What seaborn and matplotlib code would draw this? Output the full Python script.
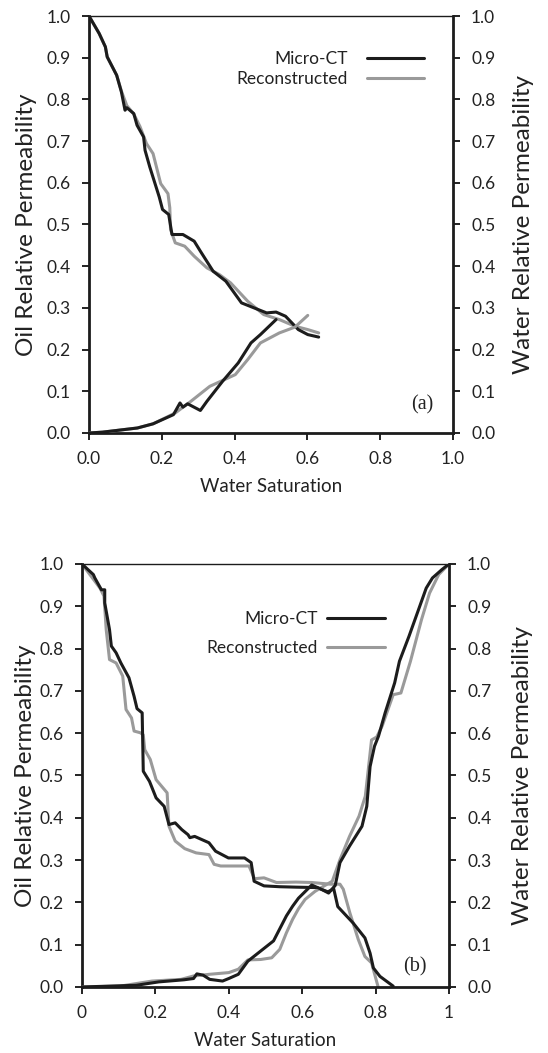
import matplotlib
matplotlib.use("Agg")
import matplotlib.pyplot as plt
import seaborn as sns

# ---------------- panel (a) ----------------
sw_oil_ct_a = [0.0, 0.028, 0.045, 0.050, 0.076, 0.089, 0.099, 0.104, 0.123, 0.132, 0.150, 0.154,
               0.167, 0.193, 0.202, 0.219, 0.228, 0.258, 0.289, 0.306, 0.341, 0.376, 0.419, 0.488,
               0.514, 0.540, 0.575, 0.601, 0.631]
kro_ct_a = [1.0, 0.958, 0.926, 0.902, 0.858, 0.818, 0.774, 0.780, 0.766, 0.738, 0.710, 0.678,
            0.638, 0.566, 0.536, 0.524, 0.476, 0.476, 0.460, 0.436, 0.388, 0.364, 0.312, 0.288,
            0.290, 0.280, 0.248, 0.236, 0.230]

sw_oil_rec_a = [0.0, 0.028, 0.045, 0.050, 0.076, 0.089, 0.104, 0.123, 0.140, 0.158, 0.176, 0.197,
                0.217, 0.222, 0.224, 0.237, 0.263, 0.289, 0.324, 0.358, 0.389, 0.436, 0.480, 0.523,
                0.566, 0.601, 0.631]
kro_rec_a = [1.0, 0.958, 0.926, 0.902, 0.858, 0.820, 0.785, 0.765, 0.735, 0.694, 0.670, 0.598,
             0.574, 0.540, 0.488, 0.456, 0.448, 0.424, 0.396, 0.380, 0.360, 0.316, 0.284, 0.272,
             0.256, 0.248, 0.240]

sw_wat_ct_a = [0.0, 0.037, 0.133, 0.176, 0.232, 0.250, 0.258, 0.271, 0.306, 0.324, 0.367, 0.410,
               0.445, 0.471, 0.514]
krw_ct_a = [0.0, 0.002, 0.012, 0.022, 0.044, 0.072, 0.062, 0.070, 0.054, 0.076, 0.124, 0.168,
            0.216, 0.236, 0.272]

sw_wat_rec_a = [0.0, 0.037, 0.133, 0.176, 0.237, 0.280, 0.332, 0.402, 0.436, 0.471, 0.523, 0.566,
                0.601]
krw_rec_a = [0.0, 0.002, 0.012, 0.022, 0.048, 0.076, 0.112, 0.140, 0.176, 0.216, 0.240, 0.254,
             0.282]

# ---------------- panel (b) ----------------
sw_oil_ct_b = [0.0, 0.016, 0.031, 0.035, 0.053, 0.062, 0.062, 0.075, 0.080, 0.093, 0.106, 0.128,
               0.142, 0.150, 0.164, 0.167, 0.184, 0.202, 0.224, 0.237, 0.254, 0.272, 0.289, 0.294,
               0.307, 0.346, 0.364, 0.399, 0.443, 0.461, 0.469, 0.496, 0.539, 0.583, 0.640, 0.670,
               0.686, 0.697, 0.739, 0.771, 0.785, 0.794, 0.812, 0.848]
kro_ct_b = [1.0, 0.987, 0.975, 0.967, 0.939, 0.939, 0.908, 0.845, 0.806, 0.790, 0.766, 0.731,
            0.687, 0.658, 0.648, 0.510, 0.486, 0.447, 0.427, 0.384, 0.388, 0.372, 0.360, 0.353,
            0.356, 0.341, 0.321, 0.305, 0.305, 0.294, 0.250, 0.239, 0.237, 0.236, 0.235, 0.225,
            0.232, 0.190, 0.151, 0.116, 0.080, 0.045, 0.025, 0.002]

sw_oil_rec_b = [0.0, 0.049, 0.060, 0.066, 0.075, 0.093, 0.111, 0.120, 0.135, 0.142, 0.159, 0.167,
                0.171, 0.186, 0.202, 0.232, 0.237, 0.254, 0.280, 0.311, 0.346, 0.360, 0.378, 0.455,
                0.470, 0.496, 0.530, 0.583, 0.626, 0.677, 0.703, 0.712, 0.730, 0.753, 0.771, 0.789,
                0.807]
kro_rec_b = [1.0, 0.943, 0.924, 0.845, 0.774, 0.766, 0.735, 0.656, 0.636, 0.605, 0.601, 0.596,
             0.561, 0.538, 0.490, 0.459, 0.380, 0.345, 0.327, 0.317, 0.313, 0.290, 0.286, 0.286,
             0.256, 0.258, 0.247, 0.248, 0.247, 0.243, 0.243, 0.231, 0.175, 0.112, 0.072, 0.057,
             0.0]

sw_wat_ct_b = [0.0, 0.148, 0.209, 0.278, 0.304, 0.313, 0.330, 0.348, 0.383, 0.400, 0.426, 0.452,
               0.487, 0.522, 0.557, 0.574, 0.590, 0.626, 0.650, 0.672, 0.690, 0.703, 0.729, 0.763,
               0.776, 0.785, 0.797, 0.808, 0.826, 0.852, 0.865, 0.891, 0.917, 0.938, 0.955, 0.981,
               1.0]
krw_ct_b = [0.0, 0.004, 0.012, 0.017, 0.020, 0.031, 0.028, 0.018, 0.014, 0.020, 0.030, 0.061,
            0.085, 0.109, 0.168, 0.191, 0.210, 0.241, 0.232, 0.222, 0.240, 0.294, 0.333, 0.380,
            0.427, 0.521, 0.569, 0.593, 0.648, 0.719, 0.770, 0.829, 0.892, 0.943, 0.967, 0.987,
            1.0]

sw_wat_rec_b = [0.0, 0.104, 0.191, 0.270, 0.304, 0.348, 0.400, 0.426, 0.452, 0.487, 0.517, 0.539,
                0.557, 0.574, 0.590, 0.608, 0.635, 0.660, 0.682, 0.703, 0.729, 0.755, 0.772, 0.781,
                0.789, 0.803, 0.818, 0.848, 0.869, 0.895, 0.925, 0.947, 0.972, 1.0]
krw_rec_b = [0.0, 0.002, 0.014, 0.018, 0.026, 0.030, 0.034, 0.042, 0.064, 0.065, 0.069, 0.089,
             0.128, 0.160, 0.185, 0.207, 0.226, 0.239, 0.250, 0.301, 0.356, 0.404, 0.451, 0.521,
             0.584, 0.591, 0.617, 0.691, 0.695, 0.770, 0.868, 0.931, 0.975, 1.0]

series_labels = ["Micro-CT", "Reconstructed"]
y_ticks = [0.0, 0.1, 0.2, 0.3, 0.4, 0.5, 0.6, 0.7, 0.8, 0.9, 1.0]
x_ticks = [0.0, 0.2, 0.4, 0.6, 0.8, 1.0]
x_ticklabels_a = ["0.0", "0.2", "0.4", "0.6", "0.8", "1.0"]
x_ticklabels_b = ["0", "0.2", "0.4", "0.6", "0.8", "1"]
y_ticklabels = ["0.0", "0.1", "0.2", "0.3", "0.4", "0.5", "0.6", "0.7", "0.8", "0.9", "1.0"]

BLACK = "#1c1c1c"
GREY = "#9a9a9a"
TXT = "#222222"
LW = 2.2

sns.set_theme(style="white")
plt.rcParams["font.family"] = ["Lato", "DejaVu Sans"]
plt.rcParams["text.color"] = TXT
plt.rcParams["axes.labelcolor"] = TXT
plt.rcParams["xtick.color"] = TXT
plt.rcParams["ytick.color"] = TXT

fig = plt.figure(figsize=(5.48, 10.53), dpi=100)
ax_a = fig.add_axes([0.1624, 0.5888, 0.6642, 0.3960])
ax_b = fig.add_axes([0.1496, 0.0627, 0.6697, 0.4017])


def draw_panel(ax, oil_ct, oil_rec, wat_ct, wat_rec, xticklabels, tag, tag_xy, leg_anchor,
               leg_textpad, leg_spacing, left_pad, right_pad):
    ax2 = ax.twinx()
    oil = [(oil_ct, BLACK), (oil_rec, GREY)]
    wat = [(wat_ct, BLACK), (wat_rec, GREY)]
    # reconstructed drawn first so the measured curve sits on top
    for (sw, kr), col in reversed(oil):
        sns.lineplot(x=sw, y=kr, sort=False, estimator=None, color=col, lw=LW, ax=ax)
    for (sw, kr), col in reversed(wat):
        sns.lineplot(x=sw, y=kr, sort=False, estimator=None, color=col, lw=LW, ax=ax2)

    for a in (ax, ax2):
        a.set_xlim(0, 1)
        a.set_ylim(0, 1)
        a.set_facecolor("none")
    ax.set_xticks(x_ticks)
    ax.set_xticklabels(xticklabels)
    ax.set_yticks(y_ticks)
    ax.set_yticklabels(y_ticklabels)
    ax2.set_yticks(y_ticks)
    ax2.set_yticklabels(y_ticklabels)

    ax.set_xlabel("Water Saturation", fontsize=13.5, labelpad=8)
    ax.set_ylabel("Oil Relative Permeability", fontsize=17.5, labelpad=left_pad)
    ax2.set_ylabel("Water Relative Permeability", fontsize=17.5, labelpad=right_pad)

    for a in (ax, ax2):
        a.tick_params(axis="both", direction="out", length=5, width=1.4, labelsize=12.5,
                      pad=8, colors=TXT, labelcolor=TXT)
    ax.tick_params(axis="y", left=True, right=False)
    ax.tick_params(axis="x", bottom=True, top=False)
    ax2.tick_params(axis="y", right=True, left=False)

    for s in ("left", "bottom"):
        ax.spines[s].set_linewidth(2.0)
        ax.spines[s].set_color(BLACK)
    ax.spines["top"].set_linewidth(1.0)
    ax.spines["top"].set_color(BLACK)
    ax.spines["right"].set_visible(False)
    for s in ("left", "bottom", "top"):
        ax2.spines[s].set_visible(False)
    ax2.spines["right"].set_linewidth(2.0)
    ax2.spines["right"].set_color(BLACK)

    handles = [ax.lines[1], ax.lines[0]]
    ax.legend(handles=handles, labels=series_labels, markerfirst=False, frameon=False,
              loc="center right", bbox_to_anchor=leg_anchor, borderpad=0, borderaxespad=0,
              handlelength=3.3, handletextpad=leg_textpad, labelspacing=leg_spacing,
              fontsize=12.5)

    ax.text(tag_xy[0], tag_xy[1], tag, transform=ax.transAxes, ha="center", va="center",
            fontsize=14.5, family=["Liberation Serif", "DejaVu Serif"], color=TXT)


draw_panel(ax_a, (sw_oil_ct_a, kro_ct_a), (sw_oil_rec_a, kro_rec_a),
           (sw_wat_ct_a, krw_ct_a), (sw_wat_rec_a, krw_rec_a),
           x_ticklabels_a, "(a)", (0.915, 0.068), (0.92, 0.873), 1.1, 0.25, 7, 13)
draw_panel(ax_b, (sw_oil_ct_b, kro_ct_b), (sw_oil_rec_b, kro_rec_b),
           (sw_wat_ct_b, krw_ct_b), (sw_wat_rec_b, krw_rec_b),
           x_ticklabels_b, "(b)", (0.907, 0.047), (0.825, 0.835), 0.55, 0.75, 3, 15)

fig.savefig("out.png", dpi=100)
